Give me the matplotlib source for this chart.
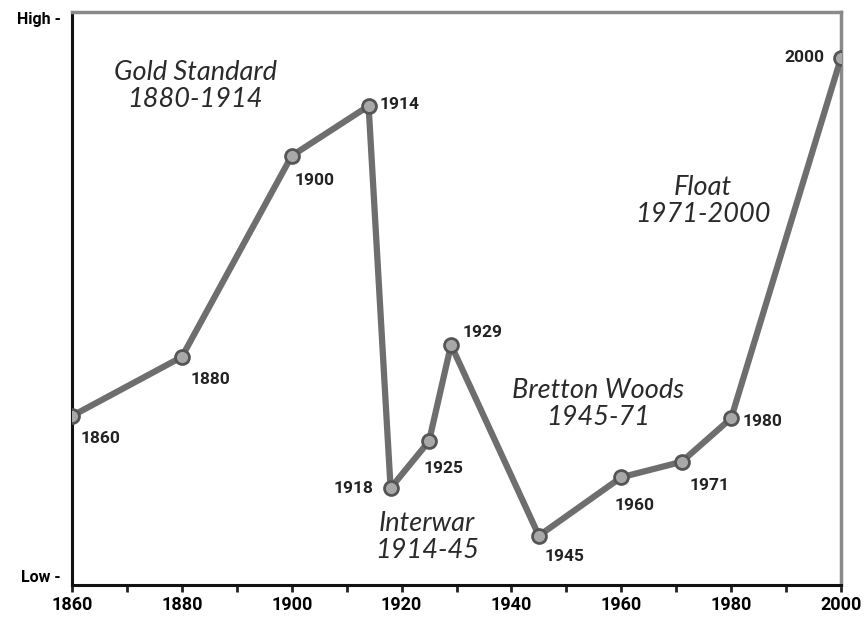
import matplotlib; matplotlib.use("Agg"); import matplotlib.pyplot as plt
from matplotlib.ticker import MultipleLocator

# y is relative level, 0 = Low, 100 = High
years=[1860,1880,1900,1914,1918,1925,1929,1945,1960,1971,1980,2000]
level=[29.5,39.8,74.9,83.6,16.9,25.1,41.9,8.6,18.8,21.5,29.1,92.0]
# label offsets in points (dx, dy, ha)
offs=[(6,-16,"left"),(6,-16,"left"),(2,-18,"left"),(8,1,"left"),(-12,0,"right"),(-4,-20,"left"),
      (8,9,"left"),(4,-15,"left"),(-5,-20,"left"),(6,-17,"left"),(8,-2,"left"),(-12,0,"right")]
eras=[("Gold Standard\n1880-1914",1882.4,87.1),("Float\n1971-2000",1974.9,67.0),
      ("Bretton Woods\n1945-71",1955.8,31.6),("Interwar\n1914-45",1924.6,8.4)]

narrow=["Roboto","DejaVu Sans"]
fig=plt.figure(figsize=(8.64,6.25),dpi=100)
ax=fig.add_axes([72/864,40/625,769/864,573/625])
ax.plot(years,level,color="#6e6e6e",lw=4.5,marker="o",ms=10,mfc="#a8a8a8",mec="#555555",mew=2,zorder=3)
for y,v,(dx,dy,ha) in zip(years,level,offs):
    ax.annotate(str(y),(y,v),xytext=(dx,dy),textcoords="offset points",ha=ha,va="center",
                fontsize=12.5,fontweight="bold",family=narrow,color="#222")
for t,x,y in eras:
    ax.text(x,y,t,ha="center",va="center",fontsize=19.5,style="italic",
            family=["Lato","DejaVu Sans"],color="#2a2a2a",linespacing=1.1)

ax.set_xlim(1860,2000); ax.set_ylim(0,100)
ax.xaxis.set_major_locator(MultipleLocator(20)); ax.xaxis.set_minor_locator(MultipleLocator(10))
ax.tick_params(axis="x",which="both",direction="out",length=5,width=2,color="#222",pad=3)
for lb in ax.get_xticklabels():
    lb.set_family(narrow); lb.set_fontweight("bold"); lb.set_fontsize(13)
ax.set_yticks([1.5,99])
ax.set_yticklabels(["Low -","High -"],family=narrow,fontweight="bold",fontsize=11.5)
ax.tick_params(axis="y",length=0,pad=8)
for s in ["left","bottom"]: ax.spines[s].set_linewidth(2.2); ax.spines[s].set_color("#111")
for s in ["top","right"]: ax.spines[s].set_linewidth(2.5); ax.spines[s].set_color("#8a8a8a")
fig.savefig("out.png",dpi=100)
